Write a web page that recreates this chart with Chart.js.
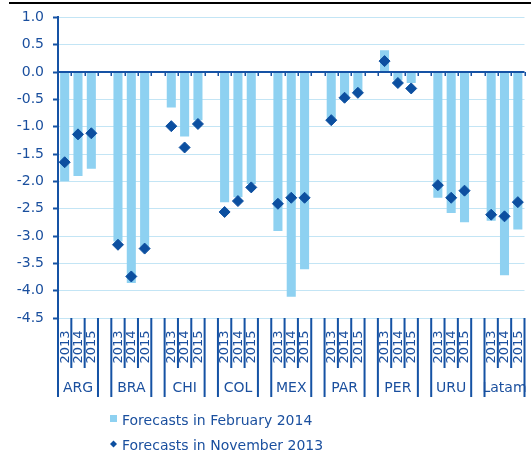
<!DOCTYPE html>
<html>
<head>
<meta charset="utf-8">
<script src="https://cdn.jsdelivr.net/npm/chart.js@4.4.1/dist/chart.umd.min.js"></script>
<style>
  html, body { margin: 0; padding: 0; background: #ffffff; }
  #wrap { position: relative; width: 531px; height: 457px; }
</style>
</head>
<body>
<div id="wrap"><canvas id="chart" width="531" height="457"></canvas></div>
<script>
// Countries / regions and forecast years
const groups = ['ARG', 'BRA', 'CHI', 'COL', 'MEX', 'PAR', 'PER', 'URU', 'Latam'];
const years = ['2013', '2014', '2015'];

// Forecasts in February 2014 (bars), three years per group
const febForecast = [
  -2.00, -1.90, -1.77,   // ARG
  -3.10, -3.86, -3.20,   // BRA
  -0.65, -1.18, -0.88,   // CHI
  -2.38, -2.29, -2.05,   // COL
  -2.91, -4.11, -3.61,   // MEX
  -0.85, -0.45, -0.35,   // PAR
   0.40, -0.15, -0.20,   // PER
  -2.30, -2.58, -2.75,   // URU
  -2.72, -3.72, -2.88    // Latam
];

// Forecasts in November 2013 (diamonds)
const novForecast = [
  -1.65, -1.14, -1.12,   // ARG
  -3.16, -3.74, -3.23,   // BRA
  -0.99, -1.38, -0.95,   // CHI
  -2.56, -2.36, -2.11,   // COL
  -2.41, -2.30, -2.30,   // MEX
  -0.88, -0.47, -0.38,   // PAR
   0.20, -0.20, -0.30,   // PER
  -2.07, -2.30, -2.17,   // URU
  -2.61, -2.64, -2.38    // Latam
];

// Y-axis range and step
const yMin = -4.5, yMax = 1.0, yStep = 0.5;

const seriesNames = ['Forecasts in February 2014', 'Forecasts in November 2013'];

const BAR_COLOR = '#8ed1f1';
const DOT_COLOR = '#0c4fa0';
const AXIS_COLOR = '#1552a4';
const TEXT_COLOR = '#1a4f9e';
const GRID_COLOR = '#c3e5f5';
const FONT = '"DejaVu Sans", Verdana, sans-serif';

// One slot per year, with an empty slot between groups
const slotsPerGroup = years.length + 1;
const slotCount = groups.length * slotsPerGroup - 1;
const labels = [];
const barData = [];
const dotData = [];
for (let s = 0; s < slotCount; s++) {
  const g = Math.floor(s / slotsPerGroup);
  const y = s % slotsPerGroup;
  if (y < years.length) {
    const k = g * years.length + y;
    labels.push(groups[g] + ' ' + years[y]);
    barData.push(febForecast[k]);
    dotData.push(novForecast[k]);
  } else {
    labels.push('');
    barData.push(null);
    dotData.push(null);
  }
}

// Category axis at zero, two-level labels below the plot, and the legend
const categoryAxisPlugin = {
  id: 'categoryAxis',
  afterDatasetsDraw(chart) {
    const ctx = chart.ctx;
    const xs = chart.scales.x, ys = chart.scales.y;
    const area = chart.chartArea;
    const w = (area.right - area.left) / slotCount;
    const y0 = ys.getPixelForValue(0);
    ctx.save();
    ctx.strokeStyle = AXIS_COLOR;
    ctx.lineWidth = 2;
    ctx.beginPath();
    ctx.moveTo(area.left, y0);
    ctx.lineTo(area.right, y0);
    ctx.stroke();
    ctx.lineWidth = 1.5;
    ctx.beginPath();
    for (let i = 0; i <= slotCount; i++) {
      const x = Math.round(area.left + i * w) + 0.25;
      ctx.moveTo(x, y0);
      ctx.lineTo(x, y0 + 4);
    }
    ctx.stroke();
    ctx.restore();
  },
  afterDraw(chart) {
    const ctx = chart.ctx;
    const xs = chart.scales.x;
    const area = chart.chartArea;
    const w = (area.right - area.left) / slotCount;
    const top = area.bottom;
    const yearBottom = top + 50;
    const groupBottom = top + 79;
    ctx.save();
    ctx.strokeStyle = AXIS_COLOR;
    ctx.lineWidth = 2;
    ctx.beginPath();
    groups.forEach((g, gi) => {
      const s0 = gi * slotsPerGroup;
      const xl = area.left + s0 * w;
      const xr = area.left + (s0 + years.length) * w;
      ctx.moveTo(xl, top); ctx.lineTo(xl, groupBottom);
      ctx.moveTo(xr, top); ctx.lineTo(xr, groupBottom);
      for (let j = 1; j < years.length; j++) {
        const xi = area.left + (s0 + j) * w;
        ctx.moveTo(xi, top); ctx.lineTo(xi, yearBottom);
      }
    });
    ctx.stroke();

    ctx.fillStyle = TEXT_COLOR;
    // year labels, rotated to read upwards
    ctx.font = '13px ' + FONT;
    ctx.textAlign = 'center';
    ctx.textBaseline = 'middle';
    groups.forEach((g, gi) => {
      years.forEach((yr, j) => {
        const cx = xs.getPixelForValue(gi * slotsPerGroup + j);
        ctx.save();
        ctx.translate(cx + 0.5, top + 29);
        ctx.rotate(-Math.PI / 2);
        ctx.fillText(yr, 0, 0);
        ctx.restore();
      });
    });
    // group labels
    ctx.font = '14px ' + FONT;
    groups.forEach((g, gi) => {
      const s0 = gi * slotsPerGroup;
      const cx = area.left + (s0 + years.length / 2) * w;
      ctx.fillText(g, cx, top + 70);
    });

    // legend
    ctx.textAlign = 'left';
    ctx.textBaseline = 'alphabetic';
    const ds = chart.data.datasets;
    ctx.fillStyle = ds[0].backgroundColor;
    ctx.fillRect(110, 415, 7, 7);
    ctx.fillStyle = ds[1].pointBackgroundColor;
    ctx.beginPath();
    ctx.moveTo(113.5, 440.5);
    ctx.lineTo(117, 444);
    ctx.lineTo(113.5, 447.5);
    ctx.lineTo(110, 444);
    ctx.closePath();
    ctx.fill();
    ctx.fillStyle = TEXT_COLOR;
    ctx.font = '14px ' + FONT;
    ctx.fillText(ds[0].label, 122, 425);
    ctx.fillText(ds[1].label, 122, 450);

    // rule across the top
    ctx.fillStyle = '#000000';
    ctx.fillRect(9, 2, 522, 2);
    ctx.restore();
  }
};

new Chart(document.getElementById('chart'), {
  data: {
    labels: labels,
    datasets: [
      {
        type: 'bar',
        label: seriesNames[0],
        data: barData,
        backgroundColor: BAR_COLOR,
        borderWidth: 0,
        barPercentage: 0.68,
        categoryPercentage: 1.0,
        order: 2
      },
      {
        type: 'line',
        label: seriesNames[1],
        data: dotData,
        showLine: false,
        pointStyle: 'rectRot',
        pointRadius: 5.5,
        pointBorderWidth: 1,
        pointBackgroundColor: DOT_COLOR,
        pointBorderColor: DOT_COLOR,
        order: 1
      }
    ]
  },
  options: {
    responsive: false,
    animation: false,
    layout: { padding: { top: 17, bottom: 139, left: 0, right: 3.5 } },
    plugins: { legend: { display: false }, tooltip: { enabled: false } },
    scales: {
      x: {
        type: 'category',
        offset: true,
        display: false,
        grid: { display: false }
      },
      y: {
        min: yMin,
        max: yMax,
        afterFit(scale) { scale.width = 58; },
        ticks: {
          stepSize: yStep,
          padding: 9,
          color: TEXT_COLOR,
          font: { family: FONT, size: 14 },
          callback: (v) => Number(v).toFixed(1)
        },
        grid: {
          color: GRID_COLOR,
          lineWidth: 1,
          drawTicks: true,
          tickLength: 5,
          tickColor: AXIS_COLOR,
          tickWidth: 2
        },
        border: { display: true, color: AXIS_COLOR, width: 2 }
      }
    }
  },
  plugins: [categoryAxisPlugin]
});
</script>
</body>
</html>
